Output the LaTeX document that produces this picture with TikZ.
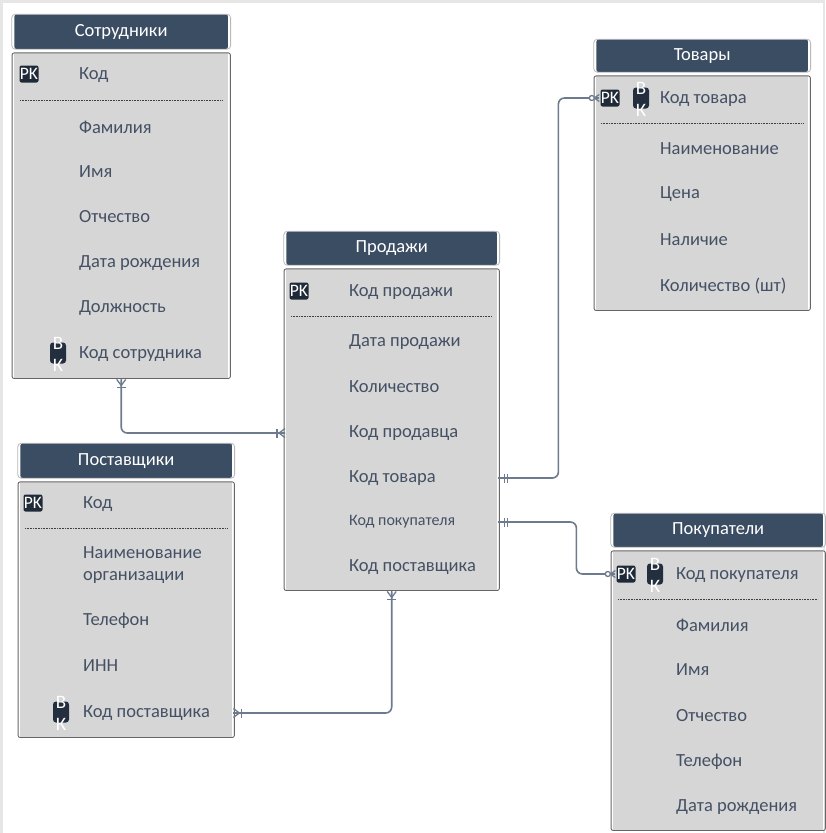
\documentclass[tikz,border=0pt]{standalone}
\usepackage{fontspec}
\setmainfont{Carlito}
\usetikzlibrary{calc}
\definecolor{hdr}{HTML}{3B4D63}
\definecolor{bodyc}{HTML}{D6D6D6}
\definecolor{ftxt}{HTML}{445064}
\definecolor{conc}{HTML}{6E7B8E}
\definecolor{icon}{HTML}{1F2A38}
\definecolor{frame}{HTML}{E6E6E6}
\tikzset{
  head/.style={draw=white, line width=1.4pt, fill=hdr, rounded corners=2.5pt, anchor=north west, text=white, font=\fontsize{18.5}{20}\selectfont, inner sep=0pt},
  headout/.style={draw=gray!55, line width=0.8pt, rounded corners=3.5pt},
  bodyb/.style={draw=white, line width=1.4pt, fill=bodyc, anchor=north west, inner sep=0pt},
  bodyout/.style={draw=black!60, line width=0.9pt, rounded corners=2pt},
  field/.style={anchor=west, text=ftxt, font=\fontsize{18.5}{21}\selectfont, inner sep=0pt, align=left, yshift=-1pt},
  sep/.style={draw=black!75, line width=0.7pt, dash pattern=on 1pt off 0.6pt},
  pk/.style={fill=icon, rounded corners=2pt, minimum width=19pt, minimum height=17pt, inner sep=0pt, text=white, font=\fontsize{17.5}{17.5}\selectfont},
  bk/.style={fill=icon!85!hdr, rounded corners=3pt, minimum width=16pt, minimum height=21pt, inner sep=0pt},
  bkl/.style={text=white, font=\fontsize{19}{19}\selectfont, inner sep=0pt},
  conn/.style={draw=conc, line width=1.6pt, rounded corners=6pt},
  mk/.style={draw=conc, line width=1.3pt},
  manyone/.pic={\draw[mk] (0,-4.5) -- (6,0) -- (0,4.5); \draw[mk] (0,0) -- (8,0); \draw[mk] (8,-4.5) -- (8,4.5);},
  oneone/.pic={\draw[mk] (6,-4.5) -- (6,4.5); \draw[mk] (9,-4.5) -- (9,4.5); \draw[mk] (0,0) -- (10,0);},
  zeromany/.pic={\draw[mk] (0,-3.5) -- (5,0) -- (0,3.5); \draw[mk] (0,0) -- (5,0); \draw[mk, fill=white] (7.5,0) circle (2.5);}
}
\newcommand{\mytable}[7]{% name, x0, x1, yh0, yh1, yb1, title
  \node[head, minimum width={#3-#2}, minimum height={#5-#4}] (#1H) at (#2,#4) {#7};
  \draw[headout] ($(#1H.north west)+(-1.2,1.2)$) rectangle ($(#1H.south east)+(1.2,-1.2)$);
  \node[bodyb, minimum width={#3-#2}, minimum height={#6-#5-3}] (#1B) at (#2,#5+3) {};
  \draw[bodyout] ($(#1B.north west)+(-0.9,0.9)$) rectangle ($(#1B.south east)+(0.9,-0.9)$);
}
\newcommand{\pkicon}[3]{\node[pk] (#1) at (#2,#3) {PK};}
\newcommand{\bkicon}[3]{\node[bk] (#1) at (#2,#3) {};
  \node[bkl] (#1a) at (#2,#3-10) {В};
  \node[bkl] (#1b) at (#2,#3+12) {К};}
\begin{document}
\begin{tikzpicture}[x=1pt,y=-1pt]
\useasboundingbox (0,0) rectangle (825,833);
\fill[frame] (0,0) rectangle (825,833);
\fill[white] (3,3) rectangle (823,833);

% Сотрудники
\mytable{s}{13}{228}{13}{49}{378}{Сотрудники}
\pkicon{sPK}{29}{74}
\node[field] (s1) at (79,74) {Код};
\draw[sep] (20,100) -- (222,100);
\node[field] (s2) at (79,126) {Фамилия};
\node[field] (s3) at (79,171) {Имя};
\node[field] (s4) at (79,216) {Отчество};
\node[field] (s5) at (79,262) {Дата рождения};
\node[field] (s6) at (79,307) {Должность};
\bkicon{sBK}{58}{353}
\node[field] (s7) at (79,353) {Код сотрудника};

% Товары
\mytable{t}{595}{808}{38}{72}{310}{Товары}
\pkicon{tPK}{610}{98}
\bkicon{tBK}{641}{98}
\node[field] (t1) at (660,98) {Код товара};
\draw[sep] (601,123) -- (803,123);
\node[field] (t2) at (660,148) {Наименование};
\node[field] (t3) at (660,193) {Цена};
\node[field] (t4) at (660,239) {Наличие};
\node[field] (t5) at (660,285) {Количество (шт)};

% Продажи
\mytable{p}{285}{497}{230}{265}{590}{Продажи}
\pkicon{pPK}{299}{291}
\node[field] (p1) at (349,291) {Код продажи};
\draw[sep] (291,316) -- (492,316);
\node[field] (p2) at (349,341) {Дата продажи};
\node[field] (p3) at (349,386) {Количество};
\node[field] (p4) at (349,432) {Код продавца};
\node[field] (p5) at (349,477) {Код товара};
\node[field, font=\fontsize{16}{18}\selectfont] (p6) at (349,521) {Код покупателя};
\node[field] (p7) at (349,566) {Код поставщика};

% Поставщики
\mytable{v}{19}{232}{442}{478}{737}{Поставщики}
\pkicon{vPK}{33}{503}
\node[field] (v1) at (83,503) {Код};
\draw[sep] (25,528) -- (227,528);
\node[field] (v2) at (83,564) {Наименование\\[1pt]организации};
\node[field] (v3) at (83,620) {Телефон};
\node[field] (v4) at (83,665) {ИНН};
\bkicon{vBK}{61}{712}
\node[field] (v5) at (83,712) {Код поставщика};

% Покупатели
\mytable{k}{612}{823}{512}{547}{830}{Покупатели}
\pkicon{kPK}{626}{574}
\bkicon{kBK}{655}{574}
\node[field] (k1) at (676,574) {Код покупателя};
\draw[sep] (618,599) -- (818,599);
\node[field] (k2) at (676,624) {Фамилия};
\node[field] (k3) at (676,669) {Имя};
\node[field] (k4) at (676,715) {Отчество};
\node[field] (k5) at (676,761) {Телефон};
\node[field] (k6) at (676,806) {Дата рождения};

% connectors
\draw[conn] (sB.south) |- (pB.west |- p4);
\pic[rotate=-90] at (sB.south) {manyone};
\pic[rotate=180] at (pB.west |- p4) {manyone};

\draw[conn] (pB.east |- p5) -- ++(60,0) |- ($(tPK.west)+(-2,0)$);
\pic at (pB.east |- p5) {oneone};
\pic[rotate=180] at ($(tPK.west)+(-1,0)$) {zeromany};

\draw[conn] (pB.east |- p6) -- ++(78,0) |- ($(kPK.west)+(-2,0)$);
\pic at (pB.east |- p6) {oneone};
\pic[rotate=180] at ($(kPK.west)+(-1,0)$) {zeromany};

\draw[conn] (vB.east |- v5) -| (pB.south);
\pic at (vB.east |- v5) {manyone};
\pic[rotate=-90] at (pB.south) {manyone};
\end{tikzpicture}
\end{document}
